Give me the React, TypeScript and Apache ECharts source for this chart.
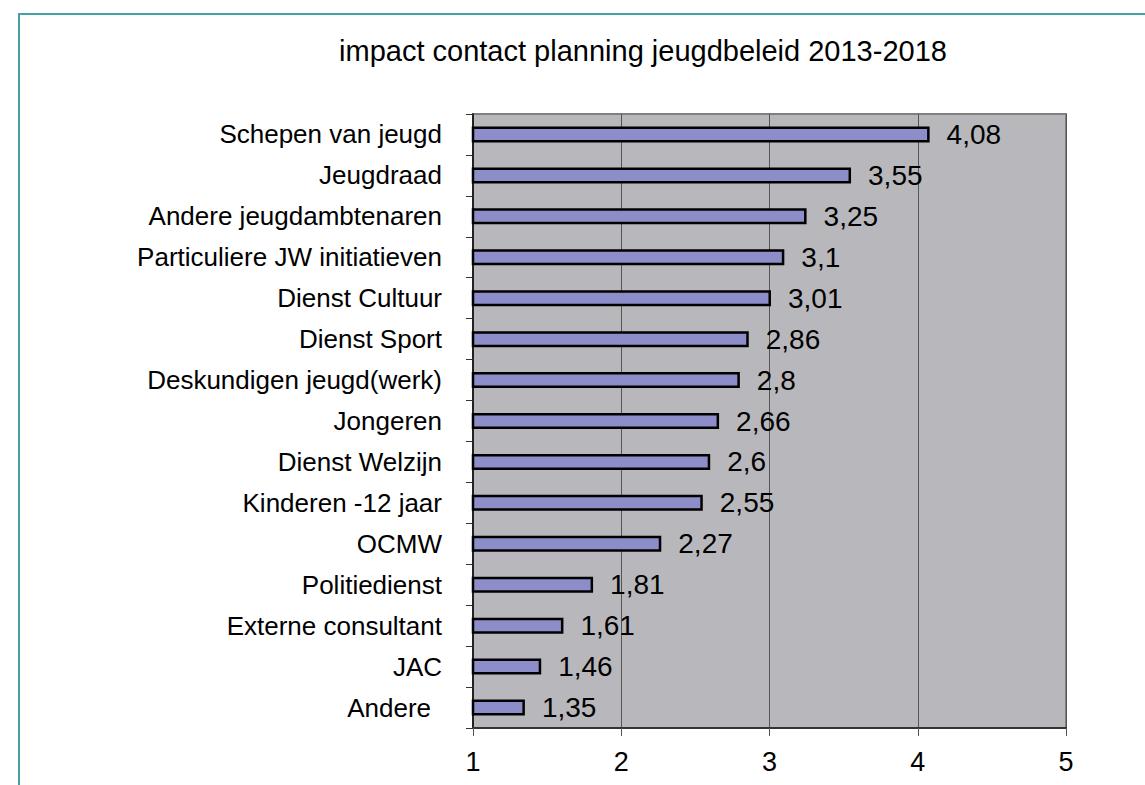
import React, { useEffect, useRef } from "react";
import * as echarts from "echarts";

const TITLE = "impact contact planning jeugdbeleid 2013-2018";
const categories = [
  "Schepen van jeugd",
  "Jeugdraad",
  "Andere jeugdambtenaren",
  "Particuliere JW initiatieven",
  "Dienst Cultuur",
  "Dienst Sport",
  "Deskundigen jeugd(werk)",
  "Jongeren",
  "Dienst Welzijn",
  "Kinderen -12 jaar",
  "OCMW",
  "Politiedienst",
  "Externe consultant",
  "JAC",
  "Andere",
];
const values = [4.08, 3.55, 3.25, 3.1, 3.01, 2.86, 2.8, 2.66, 2.6, 2.55, 2.27, 1.81, 1.61, 1.46, 1.35];
const xMin = 1;
const xMax = 5;
const xInterval = 1;

const FONT = "Liberation Sans, Arial, sans-serif";

export default function App() {
  const ref = useRef<HTMLDivElement>(null);
  useEffect(() => {
    if (!ref.current) return;
    const chart = echarts.init(ref.current, undefined, { renderer: "svg" });
    chart.setOption({
      animation: false,
      backgroundColor: "#ffffff",
      title: {
        text: TITLE,
        left: 638,
        top: 31,
        textAlign: "center",
        textStyle: { fontFamily: FONT, fontSize: 29, fontWeight: "normal", color: "#000" },
      },
      grid: {
        left: 473,
        right: 79,
        top: 114,
        bottom: 57,
        show: true,
        backgroundColor: "#b8b8bc",
        borderColor: "#808080",
        borderWidth: 2,
      },
      xAxis: {
        type: "value",
        min: xMin,
        max: xMax,
        interval: xInterval,
        axisLine: { show: true, lineStyle: { color: "#333", width: 2 } },
        axisTick: { show: true, length: 8, lineStyle: { color: "#555", width: 1 } },
        axisLabel: {
          fontFamily: FONT,
          fontSize: 27,
          color: "#000",
          margin: 20,
        },
        splitLine: { show: true, lineStyle: { color: "#555", width: 1 } },
      },
      yAxis: {
        type: "category",
        inverse: true,
        data: categories.map((c, i) =>
          i === categories.length - 1 ? { value: c, textStyle: { padding: [0, 11, 0, 0] } } : c
        ),
        axisLine: { show: true, lineStyle: { color: "#222", width: 2 } },
        axisTick: { show: true, length: 7, lineStyle: { color: "#333", width: 1 } },
        axisLabel: {
          fontFamily: FONT,
          fontSize: 26,
          color: "#000",
          margin: 31,
        },
      },
      series: [
        {
          type: "bar",
          data: values,
          barWidth: 16,
          itemStyle: { color: "#8d8dc9", borderColor: "#000", borderWidth: 2.5 },
          label: {
            show: true,
            position: "right",
            distance: 17,
            fontFamily: FONT,
            fontSize: 28,
            color: "#000",
            formatter: (p: any) => String(p.value).replace(".", ","),
          },
        },
      ],
      graphic: [
        {
          type: "rect",
          shape: { x: 19, y: 14, width: 1300, height: 1000 },
          style: { fill: "none", stroke: "#45a0a8", lineWidth: 2 },
          silent: true,
        },
      ],
    });
    return () => chart.dispose();
  }, []);
  return (
    <div
      ref={ref}
      style={{ position: "fixed", left: 0, top: 0, width: 1145, height: 785 }}
    />
  );
}
